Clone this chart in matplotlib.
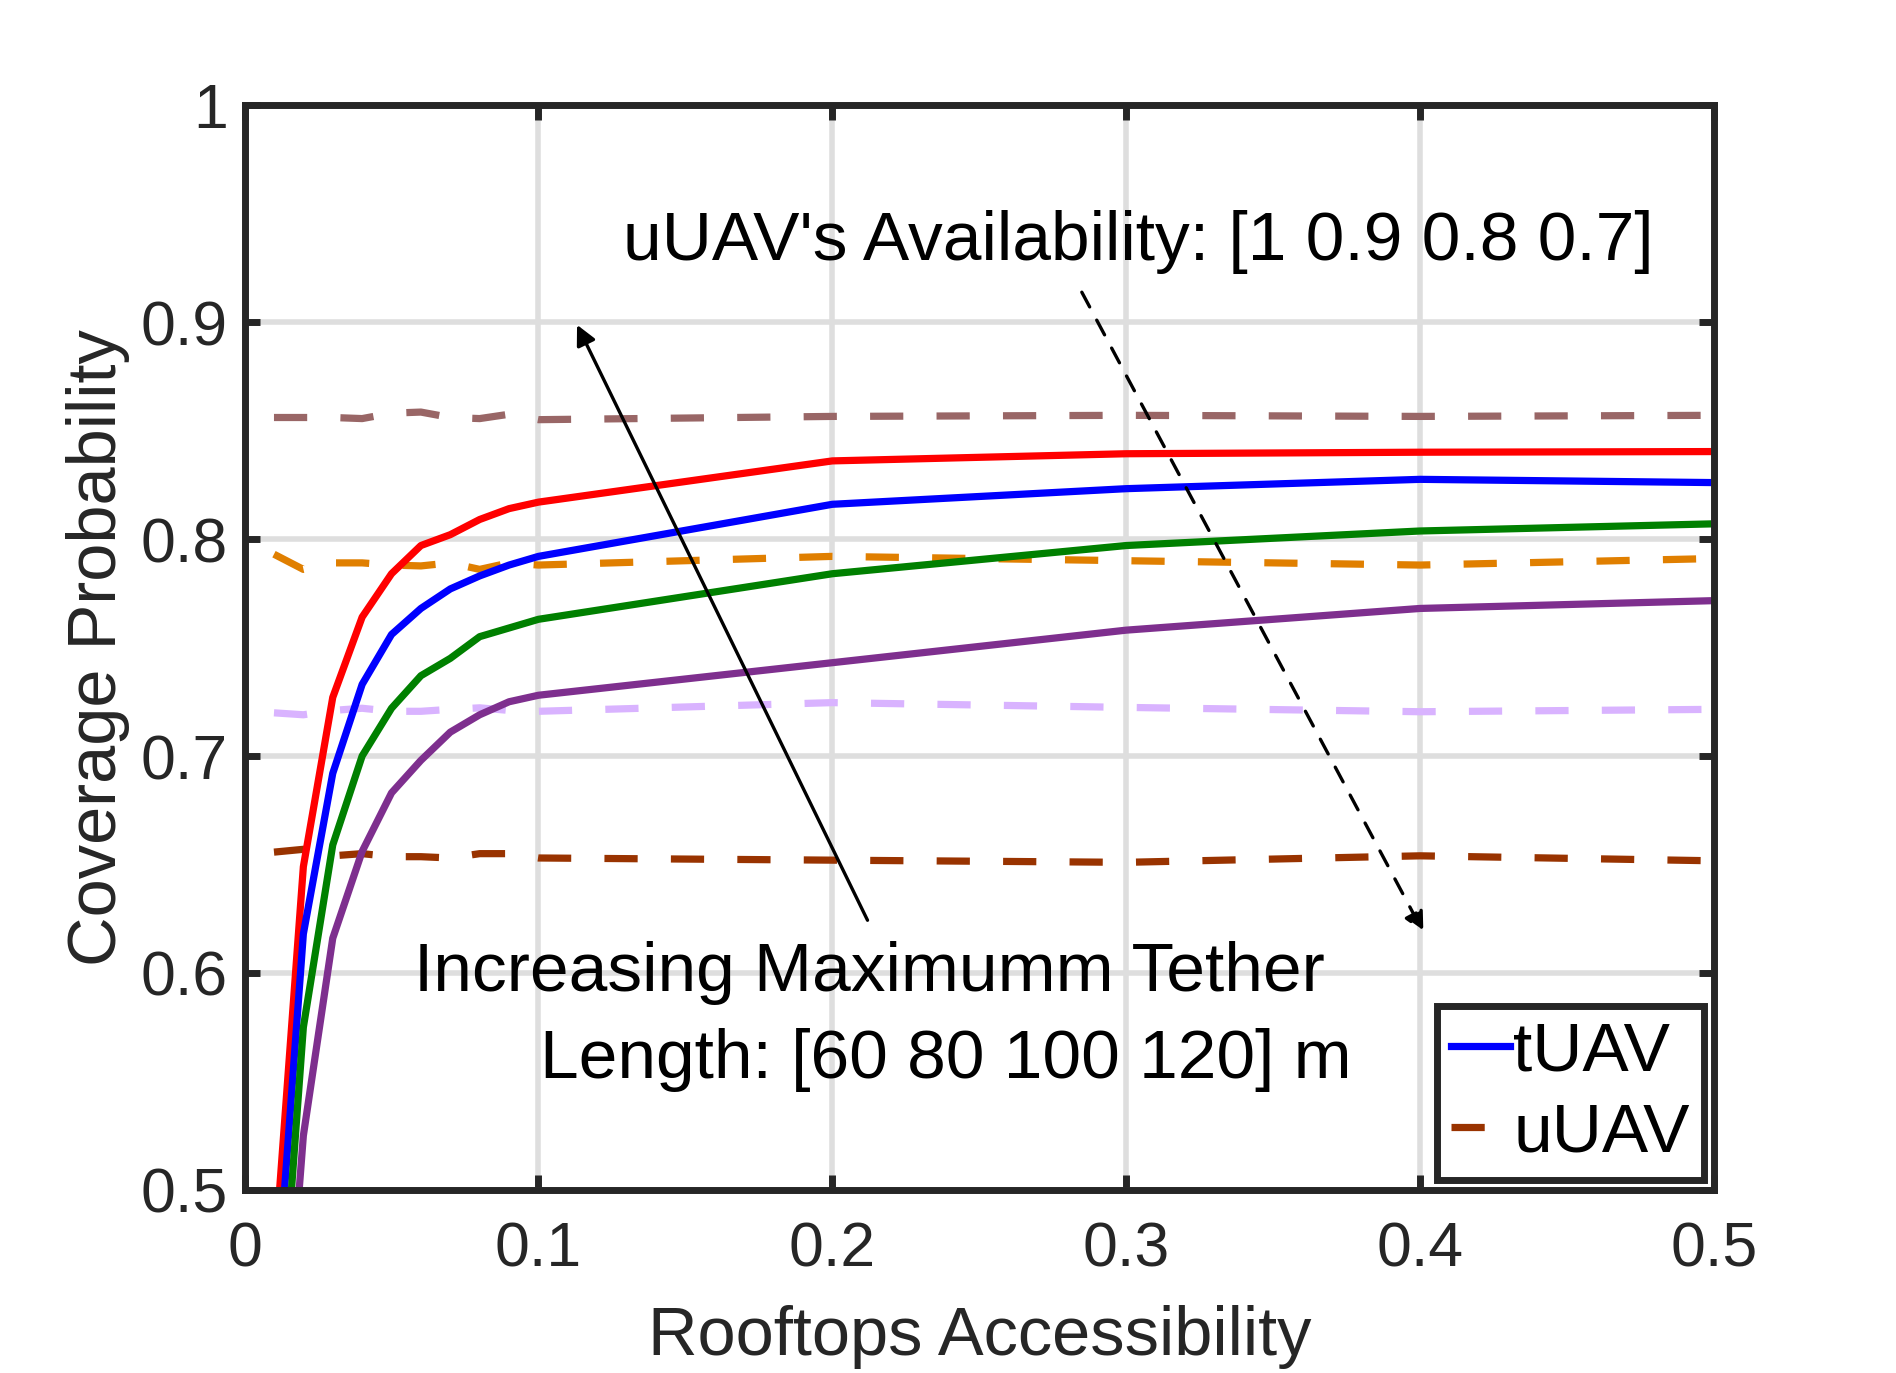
import numpy as np
import matplotlib
matplotlib.use("Agg")
import matplotlib.pyplot as plt
from matplotlib.lines import Line2D

plt.rcParams['font.family'] = ['Liberation Sans', 'DejaVu Sans']

# rooftops accessibility
x = [0.01, 0.02, 0.03, 0.04, 0.05, 0.06, 0.07, 0.08, 0.09, 0.1, 0.2, 0.3, 0.4, 0.5]

# tUAV, tether length 120 / 100 / 80 / 60 m
t_120 = [0.465, 0.649, 0.727, 0.764, 0.784, 0.797, 0.802, 0.809, 0.814, 0.817, 0.836, 0.8393, 0.840, 0.8403]
t_100 = [0.434, 0.618, 0.692, 0.733, 0.756, 0.768, 0.777, 0.783, 0.788, 0.792, 0.816, 0.8232, 0.8275, 0.826]
t_80 = [0.390, 0.575, 0.659, 0.700, 0.722, 0.737, 0.745, 0.755, 0.759, 0.763, 0.784, 0.797, 0.8037, 0.807]
t_60 = [0.350, 0.525, 0.616, 0.656, 0.683, 0.698, 0.711, 0.719, 0.725, 0.728, 0.743, 0.758, 0.768, 0.7716]

# uUAV, availability 1 / 0.9 / 0.8 / 0.7
u_10 = [0.856, 0.856, 0.856, 0.8555, 0.858, 0.8585, 0.856, 0.8555, 0.8575, 0.855, 0.8565, 0.857, 0.8565, 0.857]
u_09 = [0.793, 0.786, 0.789, 0.789, 0.788, 0.7876, 0.789, 0.786, 0.789, 0.788, 0.792, 0.790, 0.788, 0.791]
u_08 = [0.7199, 0.719, 0.721, 0.722, 0.7206, 0.7206, 0.7215, 0.7222, 0.721, 0.7206, 0.7246, 0.7224, 0.7204, 0.7215]
u_07 = [0.6557, 0.657, 0.654, 0.655, 0.6536, 0.6536, 0.653, 0.655, 0.655, 0.653, 0.652, 0.651, 0.654, 0.6517]

t_colors = ['#ff0000', '#0000ff', '#008000', '#7e2f8e']
u_colors = ['#996666', '#e07f00', '#d9b3ff', '#993300']
dark = '#262626'
lw = 2.6
dash = (4.6, 4.6)

fig = plt.figure(figsize=(9.48, 6.865), dpi=200)
ax = fig.add_axes([0.129, 0.1333, 0.775, 0.7902])

for y, c in zip([u_10, u_09, u_08, u_07], u_colors):
    ax.plot(x, y, color=c, lw=lw, dashes=dash, zorder=3)
for y, c in zip([t_120, t_100, t_80, t_60], t_colors):
    ax.plot(x, y, color=c, lw=lw, zorder=3)

ax.set_xlim(0, 0.5)
ax.set_ylim(0.5, 1)
ax.set_xticks([0, 0.1, 0.2, 0.3, 0.4, 0.5])
ax.set_xticklabels(['0', '0.1', '0.2', '0.3', '0.4', '0.5'])
ax.set_yticks([0.5, 0.6, 0.7, 0.8, 0.9, 1])
ax.set_yticklabels(['0.5', '0.6', '0.7', '0.8', '0.9', '1'])

ax.grid(True, color='#dedede', lw=2.0)
ax.set_axisbelow(True)
for s in ax.spines.values():
    s.set_linewidth(2.5)
    s.set_color(dark)
    s.set_zorder(5)
ax.tick_params(direction='in', length=5.5, width=2.5, color=dark,
               labelcolor=dark, labelsize=22.5, top=True, right=True)
ax.tick_params(axis='x', pad=11)
ax.tick_params(axis='y', pad=6)

ax.set_xlabel('Rooftops Accessibility', fontsize=24.7, color=dark, labelpad=9)
ax.set_ylabel('Coverage Probability', fontsize=24.7, color=dark, labelpad=4)

ax.text(0.1288, 0.937, "uUAV's Availability: [1 0.9 0.8 0.7]", fontsize=25,
        va='center', ha='left', color='black')
ax.annotate('', xy=(0.402, 0.6165), xytext=(0.284, 0.916),
            arrowprops=dict(arrowstyle='-|>', color='black', lw=1.2,
                            linestyle=(0, (5, 4.5)), mutation_scale=15))
ax.annotate('', xy=(0.1123, 0.901), xytext=(0.2128, 0.622),
            arrowprops=dict(arrowstyle='-|>', color='black', lw=1.2,
                            mutation_scale=15))
ax.text(0.0576, 0.5998, 'Increasing Maximumm Tether', fontsize=25,
        va='center', ha='left', color='black')
ax.text(0.1004, 0.56, 'Length: [60 80 100 120] m', fontsize=25,
        va='center', ha='left', color='black')

handles = [Line2D([], [], color='#0000ff', lw=lw),
           Line2D([], [], color='#993300', lw=lw, dashes=(4.6, 30))]
leg = ax.legend(handles, ['tUAV', 'uUAV'], loc='lower right', fontsize=25,
                handlelength=0.85, handletextpad=0.05, borderpad=0.2,
                labelspacing=0.25, fancybox=False, framealpha=1,
                borderaxespad=0.15)
leg.get_frame().set_edgecolor(dark)
leg.get_frame().set_linewidth(2.5)

fig.savefig('out.png', dpi=200)
